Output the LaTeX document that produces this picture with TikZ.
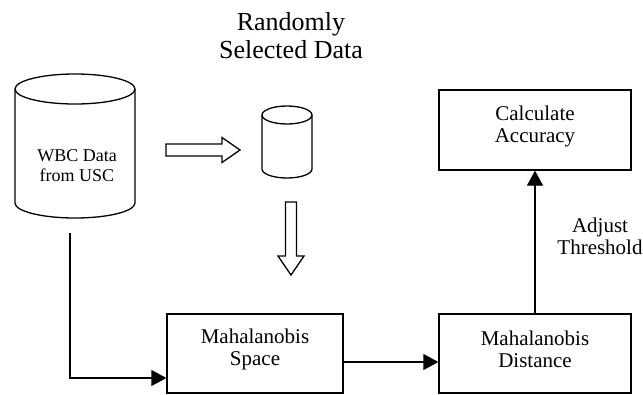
\documentclass[tikz,border=0pt]{standalone}
\usepackage{fontspec}
\setmainfont{Liberation Serif}
\usetikzlibrary{arrows.meta}
\begin{document}
\begin{tikzpicture}[x=1pt,y=-1pt,line width=1.3pt,
  boxshape/.style={draw,rectangle,inner sep=0pt},
  boxtext/.style={align=center,inner sep=0pt,font=\fontsize{21}{22}\selectfont},
  conn/.style={-{Triangle[length=15pt,width=16pt]}},
  blockarrow/.style={draw,line join=miter}]
\useasboundingbox (0,0) rectangle (643,394);

% title
\node[align=center,inner sep=0pt,font=\fontsize{26}{28}\selectfont] (title) at (291,36) {Randomly\\Selected Data};

% big cylinder
\draw (75,89) ellipse [x radius=60pt,y radius=15pt];
\draw (15,89) -- (15,203) arc[start angle=180,end angle=360,x radius=60pt,y radius=15pt] -- (135,89);
\node[align=center,inner sep=0pt,font=\fontsize{18}{20}\selectfont] (wbc) at (77,166) {WBC Data\\from USC};

% small cylinder
\draw (287,115) ellipse [x radius=25pt,y radius=9pt];
\draw (262,115) -- (262,169) arc[start angle=180,end angle=360,x radius=25pt,y radius=9pt] -- (312,115);
\coordinate (small) at (287,142);

% block arrows
\draw[blockarrow] (166,144) -- (222,144) -- (222,137.5) -- (240,150) -- (222,162.5) -- (222,156) -- (166,156) -- cycle;
\draw[blockarrow] (285.5,202) -- (296.5,202) -- (296.5,256) -- (304,256) -- (291,275) -- (278,256) -- (285.5,256) -- cycle;

% boxes
\node[boxshape,minimum width=176pt,minimum height=79pt] (space) at (255,353.5) {};
\node[boxtext] (spacetxt) at (255,349) {Mahalanobis\\Space};
\node[boxshape,minimum width=192pt,minimum height=79pt] (dist) at (535,353.5) {};
\node[boxtext] (disttxt) at (535,349) {Mahalanobis\\Distance};
\node[boxshape,minimum width=192pt,minimum height=80pt] (calc) at (535,130) {};
\node[boxtext] (calctxt) at (535,126) {Calculate\\Accuracy};

% connectors
\coordinate (start) at (70,233);
\coordinate (bend) at (70,378);
\draw[conn] (start) -- (bend) -- (bend -| space.west);
\coordinate (mid) at (0,362);
\draw[conn] (mid -| space.east) -- (mid -| dist.west);
\draw[conn] (dist.north) -- (calc.south);
\node[boxtext] (adj) at (600,236) {Adjust\\Threshold};
\end{tikzpicture}
\end{document}
